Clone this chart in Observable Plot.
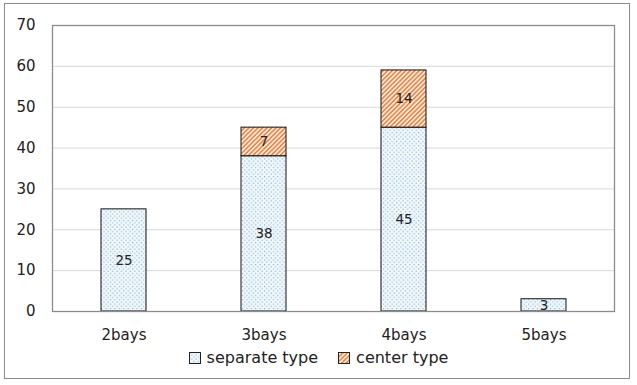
<!DOCTYPE html>
<html>
<head>
<meta charset="utf-8">
<script src="https://cdn.jsdelivr.net/npm/d3@7"></script>
<script src="https://cdn.jsdelivr.net/npm/@observablehq/plot@0.6"></script>
<style>
  html, body { margin: 0; padding: 0; background: #fff; }
  #wrap { position: relative; width: 637px; height: 385px; overflow: hidden; font-family: "DejaVu Sans", sans-serif; }
  #border { position: absolute; left: 4px; top: 3px; width: 626px; height: 376px; border: 1.5px solid #8c8c8c; box-sizing: border-box; }
  #chart { position: absolute; left: 0; top: 0; }
  #legend { position: absolute; left: 0; width: 637px; top: 348px; text-align: center; font-size: 16px; color: #222; }
  #legend span.item { display: inline-flex; align-items: center; margin: 0 10px; }
  #legend svg { margin-right: 6px; }
</style>
</head>
<body>
<div id="wrap">
  <div id="border"></div>
  <div id="chart"></div>
  <div id="legend"></div>
</div>
<script>
const bays = ["2bays", "3bays", "4bays", "5bays"];
const types = ["separate type", "center type"];
const separateValues = [25, 38, 45, 3];
const centerValues = [0, 7, 14, 0];
const yTicks = [0, 10, 20, 30, 40, 50, 60, 70];

const patternIds = ["dots", "hatch"];

const rows = [];
bays.forEach((b, i) => { if (separateValues[i] > 0) rows.push({bay: b, type: types[0], value: separateValues[i]}); });
bays.forEach((b, i) => { if (centerValues[i] > 0) rows.push({bay: b, type: types[1], value: centerValues[i]}); });

const defsMarkup = `
<defs>
  <pattern id="dots" patternUnits="userSpaceOnUse" width="4.4" height="4.4">
    <rect width="4.4" height="4.4" fill="#f1f8fc"/>
    <rect x="0" y="0" width="1.1" height="1.1" fill="#7ea8cf"/>
    <rect x="2.2" y="2.2" width="1.1" height="1.1" fill="#7ea8cf"/>
  </pattern>
  <pattern id="hatch" patternUnits="userSpaceOnUse" width="3.2" height="3.2" patternTransform="rotate(45)">
    <rect width="3.2" height="3.2" fill="#fdf0e6"/>
    <rect x="0" y="0" width="1.7" height="3.2" fill="#e8894a"/>
  </pattern>
</defs>`;

const stackOpts = {x: "bay", y: "value", order: null};

const plot = Plot.plot({
  width: 637,
  height: 346,
  marginTop: 25,
  marginLeft: 52,
  marginRight: 23,
  marginBottom: 35,
  style: {fontFamily: "'DejaVu Sans', sans-serif", fontSize: "15px", color: "#222", background: "transparent"},
  x: {domain: bays, paddingInner: 0.68, paddingOuter: 0.34, label: null, tickSize: 0, tickPadding: 18},
  y: {domain: [0, 70], ticks: yTicks, label: null, tickSize: 0, tickPadding: 17, grid: false},
  color: {domain: types, range: patternIds.map(id => `url(#${id})`)},
  marks: [
    Plot.gridY(yTicks, {stroke: "#d9d9d9", strokeOpacity: 1}),
    Plot.barY(rows, Plot.stackY({...stackOpts, fill: "type", stroke: "#111", strokeWidth: 1})),
    Plot.text(rows, Plot.stackY({...stackOpts, text: d => String(d.value), fill: "#222", fontSize: 13.5})),
    Plot.frame({stroke: "#8c8c8c", strokeWidth: 1.3})
  ]
});
plot.insertAdjacentHTML("afterbegin", defsMarkup);
document.getElementById("chart").appendChild(plot);

const legend = document.getElementById("legend");
types.forEach((t, i) => {
  const item = document.createElement("span");
  item.className = "item";
  item.innerHTML = `<svg width="12" height="12"><rect x="0.5" y="0.5" width="11" height="11" fill="url(#${patternIds[i]})" stroke="#222" stroke-width="1"/></svg>${t}`;
  legend.appendChild(item);
});
</script>
</body>
</html>
